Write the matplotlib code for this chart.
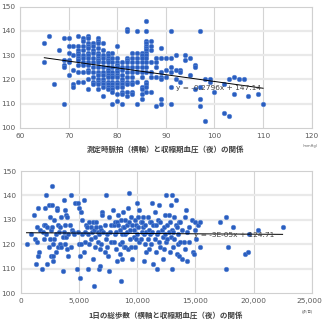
import matplotlib
matplotlib.use("Agg")
import matplotlib.pyplot as plt
import matplotlib.transforms as mtransforms
import numpy as np

plt.rcParams['font.family'] = ['DejaVu Sans', 'Noto Sans CJK JP']

# ---------- top chart: pulse vs night systolic BP ----------
pulse_cols = [65, 66, 67, 68, 69, 70, 71, 72, 73, 74, 75, 76, 77, 78, 79, 80,
              81, 82, 83, 84, 85, 86, 87, 88, 89, 90, 91, 92, 93, 94, 95, 96,
              97, 98, 99, 100, 102, 103, 104, 105, 106, 107, 109, 110]
sbp_by_pulse = [
    [135, 127], [138], [118], [132], [137, 128, 126, 125, 110],
    [137, 134, 131, 128, 127, 122], [134, 130, 124, 118, 117],
    [138, 134, 132, 131, 130, 129, 128, 126, 123, 119],
    [137, 136, 134, 132, 130, 129, 127, 126, 123, 119],
    [138, 137, 135, 134, 133, 131, 130, 129, 127, 126, 124, 123, 120, 116],
    [135, 134, 132, 131, 129, 127, 125, 123, 121, 119, 118],
    [137, 136, 135, 133, 131, 130, 129, 128, 127, 125, 123, 122, 120, 119, 118, 116],
    [135, 132, 130, 129, 127, 125, 123, 122, 120, 119, 118, 117, 113],
    [131, 130, 129, 128, 127, 125, 124, 123, 122, 121, 119, 118, 117, 116],
    [131, 129, 127, 125, 123, 122, 121, 119, 118, 117, 116, 115, 110],
    [134, 129, 127, 126, 125, 124, 123, 122, 121, 119, 118, 117, 114, 111],
    [127, 125, 124, 122, 120, 119, 118, 117, 115, 114, 110],
    [141, 140, 129, 128, 127, 125, 123, 121, 119, 118, 115, 113],
    [131, 129, 127, 125, 123, 121, 119, 118, 115, 114],
    [140, 131, 129, 127, 125, 123, 119, 110],
    [131, 130, 129, 127, 125, 123, 121, 117, 116, 114, 112],
    [144, 140, 136, 135, 134, 133, 132, 131, 130, 129, 127, 125, 123, 119, 118, 117, 115],
    [136, 134, 132, 127, 123, 121, 115],
    [129, 127, 125, 121, 109],
    [133, 129, 123, 121, 120, 112, 110],
    [129, 124, 121],
    [140, 129, 125, 123, 117, 110],
    [130, 124, 120], [124, 123, 119], [130, 128], [129, 122], [126, 125, 116],
    [140, 117, 112, 109], [120, 103], [120, 119], [115], [118, 106], [120, 105],
    [121, 114], [120], [120], [113], [114], [110],
]
top_slope, top_intercept = -0.2796, 147.14
top_eq = "y = -0.2796x + 147.14"

# ---------- bottom chart: daily steps vs night systolic BP ----------
steps_bp_pairs = [
    (500,120),(900,124),(1100,132),(1200,122),(1300,112),(1400,127),(1400,121),(1500,115),
    (1500,135),(1600,117),(1700,126),(1800,110),(1900,125),(2000,128),(2000,122),(2100,128),
    (2100,135),(2200,140),(2200,124),(2300,112),(2300,127),(2400,119),(2400,136),(2500,122),
    (2500,131),
    (2600,115),(2600,126),(2700,144),(2700,136),(2700,127),(2800,113),(2800,115),(2800,120),
    (2900,122),(2900,130),(3000,124),(3000,117),(3100,135),(3100,134),(3200,119),(3200,128),
    (3300,125),(3400,127),(3400,120),(3500,131),(3500,119),(3600,109),(3600,123),(3700,138),
    (3700,125),(3800,134),(3800,128),(3800,120),(3900,132),(3900,123),(4000,131),(4000,118),
    (4100,115),(4100,124),(4200,128),(4300,140),(4300,119),(4400,126),(4500,125),(4600,124),
    (4700,137),(4800,110),(4900,137),(4900,125),
    (5000,135),(5000,120),(5100,106),(5100,115),(5200,133),(5200,120),(5300,130),(5300,124),
    (5400,138),(5400,117),(5500,125),(5500,121),(5600,128),(5700,127),(5800,124),(5800,110),
    (5900,129),(5900,120),(6000,127),(6000,122),(6100,125),(6200,129),(6200,114),(6300,103),
    (6300,126),(6400,119),(6400,123),(6500,127),(6500,129),(6600,121),(6600,125),(6700,110),
    (6700,124),(6800,111),(6800,127),(6800,118),(6900,120),(6900,126),(7000,133),(7000,132),
    (7100,125),(7200,117),(7200,128),(7300,140),(7300,122),(7400,124),(7400,119),
    (7500,115),(7600,109),(7600,131),(7700,125),(7800,128),(7800,121),(7900,134),(8000,121),
    (8000,128),(8100,129),(8100,124),(8200,125),(8200,118),(8300,113),(8300,129),(8400,128),
    (8400,132),(8500,116),(8500,120),(8500,126),(8600,105),(8600,130),(8700,114),(8700,124),
    (8700,121),(8800,133),(8800,127),(8900,127),(8900,119),(9000,119),(9000,130),(9000,124),
    (9100,125),(9100,128),(9200,135),(9200,118),(9300,141),(9300,129),(9400,122),(9400,126),
    (9500,131),(9500,119),(9600,114),(9600,128),(9700,126),(9700,123),(9800,119),(9800,130),
    (9900,128),(9900,122),
    (10000,137),(10000,124),(10100,131),(10100,127),(10200,134),(10200,121),(10300,122),
    (10300,129),(10400,129),(10400,125),(10500,127),(10500,131),(10600,113),(10600,124),
    (10700,120),(10700,128),(10800,125),(10800,117),(10900,131),(10900,122),(11000,118),
    (11000,126),(11100,124),(11100,129),(11200,129),(11200,120),(11300,137),(11300,125),
    (11400,112),(11400,128),(11500,133),(11500,122),(11600,128),(11600,117),(11700,110),
    (11700,124),(11800,125),(11800,130),(11900,136),(11900,121),(12000,119),(12000,129),
    (12100,126),(12200,114),(12200,123),(12300,127),(12300,118),(12400,132),(12400,124),
    (12500,140),(12500,121),(12600,122),(12600,128),(12700,132),(12700,125),(12800,117),
    (12800,129),(12900,136),(12900,123),(13000,110),(13000,140),(13000,126),(13100,125),
    (13100,119),(13200,131),(13200,122),(13300,138),(13300,128),(13400,127),(13400,116),
    (13500,120),(13500,124),(13600,115),(13600,129),(13700,129),(13700,121),(13900,114),
    (13900,126),(14000,121),(14100,131),(14100,118),(14200,134),(14300,113),(14300,125),
    (14500,127),(14500,121),(14700,130),(14800,117),(14900,116),(15000,126),(15000,129),
    (15100,122),(15200,128),(15400,129),(15400,119),
    (17100,129),(17600,131),(17600,110),(17800,119),(18200,127),(19300,116),(19500,117),
    (19600,124),(20400,126),(22500,127),
]
bot_slope, bot_intercept = -3e-05, 124.71
bot_eq = "y = -3E-05x + 124.71"

top_xlabel = "測定時脈拍（横軸）と収縮期血圧（夜）の関係"
bot_xlabel = "1日の総歩数（横軸と収縮期血圧（夜）の関係"

# ---------- drawing ----------
face = '#2a5ec0'
edge = '#5a86d4'
tick_color = '#595959'

fig = plt.figure(figsize=(3.22, 3.22), dpi=100)
fig.patch.set_facecolor('white')

ax1 = fig.add_axes([20/322, 1-128/322, 291.7/322, 121.3/322])
ax2 = fig.add_axes([20.7/322, 1-293/322, 291/322, 122/322])

def style(ax, xticks, xticklabels, xlim):
    ax.set_xlim(*xlim)
    ax.set_ylim(100, 150)
    ax.set_xticks(xticks)
    ax.set_xticklabels(xticklabels)
    ax.set_yticks([100, 110, 120, 130, 140, 150])
    ax.tick_params(length=0, labelsize=5.3, colors=tick_color, pad=3.5)
    for s in ax.spines.values():
        s.set_color('#d0d0d0')
        s.set_linewidth(0.8)
    for xv in xticks:
        ax.axvline(xv, color='#d4d4d4', lw=0.8, zorder=0)
    for yv in [110, 120, 130, 140]:
        ax.axhline(yv, color='#e9e9e9', lw=1.6, zorder=0)

px = []
py = []
for xv, ys in zip(pulse_cols, sbp_by_pulse):
    for yv in ys:
        px.append(xv)
        py.append(yv)
px = np.array(px); py = np.array(py)

style(ax1, [60, 70, 80, 90, 100, 110, 120],
      ['60', '70', '80', '90', '100', '110', '120'], (60, 120))
ax1.scatter(px, py, s=11, c=face, edgecolors=edge, linewidths=0.4, zorder=3)
lx = np.array([px.min(), px.max()])
ax1.plot(lx, top_slope*lx + top_intercept, color='black', lw=0.7, zorder=4)
ax1.text(92.0, 116.6, top_eq, fontsize=5.3, color='#404040', va='center',
         ha='left', zorder=5)

sx = np.array([p[0] for p in steps_bp_pairs])
sy = np.array([p[1] for p in steps_bp_pairs])
style(ax2, [0, 5000, 10000, 15000, 20000, 25000],
      ['0', '5,000', '10,000', '15,000', '20,000', '25,000'], (0, 25000))
ax2.scatter(sx, sy, s=11, c=face, edgecolors=edge, linewidths=0.4, zorder=3)
lx2 = np.array([sx.min(), sx.max()])
ax2.plot(lx2, bot_slope*lx2 + bot_intercept, color='black', lw=0.7, zorder=4)
ax2.text(14900, 123.8, bot_eq, fontsize=5.3, color='#404040', va='center',
         ha='left', zorder=5)

# nudge last bottom tick label so it stays inside the figure
last = ax2.get_xticklabels()[-1]
last.set_transform(last.get_transform() +
                   mtransforms.ScaledTranslation(-2/100, 0, fig.dpi_scale_trans))

cjk = ['Noto Sans CJK JP', 'DejaVu Sans']
fig.text(166/322, 1-149/322, top_xlabel, ha='center', va='center', fontsize=5.4,
         color='#404040', family=cjk, fontweight='bold')
fig.text(166/322, 1-315/322, bot_xlabel, ha='center', va='center', fontsize=5.4,
         color='#404040', family=cjk, fontweight='bold')
fig.text(310/322, 1-146/322, '(mmHg)', ha='center', va='center', fontsize=2.6,
         color='#606060')
fig.text(307/322, 1-311/322, '(歩/日)', ha='center', va='center', fontsize=2.6,
         color='#606060', family=cjk)

fig.savefig('out.png', dpi=100, facecolor='white')
